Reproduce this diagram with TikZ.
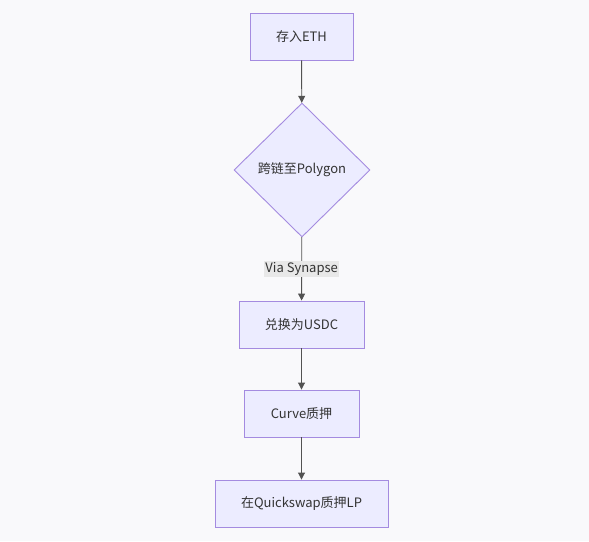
\documentclass[tikz,border=0pt]{standalone}
\usepackage{fontspec}
\setmainfont{Noto Sans CJK SC}
\usetikzlibrary{shapes.geometric,arrows.meta}

\definecolor{pagebg}{HTML}{F9F9FB}
\definecolor{boxfill}{HTML}{ECECFF}
\definecolor{boxline}{HTML}{A48BE0}
\definecolor{edgeline}{HTML}{333333}
\definecolor{labelbg}{HTML}{E8E8E8}

\tikzset{
  stepbox/.style={draw=boxline, fill=boxfill, line width=0.9pt, rectangle,
    minimum height=47pt, inner sep=0pt, font=\fontsize{13}{15}\selectfont, text=edgeline},
  choicebox/.style={draw=boxline, fill=boxfill, line width=0.9pt, diamond,
    minimum width=136pt, minimum height=134pt, inner sep=0pt,
    font=\fontsize{13}{15}\selectfont, text=edgeline},
  flow/.style={draw=edgeline!85, line width=0.9pt, -{Triangle[length=7pt,width=7pt]}},
  flowlabel/.style={fill=labelbg, inner sep=1.5pt, font=\fontsize{13}{15}\selectfont, text=edgeline}
}

\begin{document}
\begin{tikzpicture}[x=1pt, y=-1pt]

%%%%%%%%%%%%%%%%%%%%%%%%%%%%%%%%%%%%%%%%%%%%%%%%%%%%%%%%%%%%%%%%
% Page
%%%%%%%%%%%%%%%%%%%%%%%%%%%%%%%%%%%%%%%%%%%%%%%%%%%%%%%%%%%%%%%%
\fill [pagebg] (0,0) rectangle (589,541);
\useasboundingbox (0,0) rectangle (589,541);

%%%%%%%%%%%%%%%%%%%%%%%%%%%%%%%%%%%%%%%%%%%%%%%%%%%%%%%%%%%%%%%%
% Steps
%%%%%%%%%%%%%%%%%%%%%%%%%%%%%%%%%%%%%%%%%%%%%%%%%%%%%%%%%%%%%%%%

% Deposit
\node [stepbox, minimum width=103pt] (deposit) at (301.5,36.5) {存入ETH};

% Bridge
\node [choicebox] (bridge) at (302,170) {跨链至Polygon};

% Swap, stake
\node [stepbox, minimum width=125pt] (swap) at (301.5,324.5) {兑换为USDC};
\node [stepbox, minimum width=115pt] (curve) at (301.5,413.5) {Curve质押};
\node [stepbox, minimum width=173pt] (quick) at (301.5,503.5) {在Quickswap质押LP};

%%%%%%%%%%%%%%%%%%%%%%%%%%%%%%%%%%%%%%%%%%%%%%%%%%%%%%%%%%%%%%%%
% Edges
%%%%%%%%%%%%%%%%%%%%%%%%%%%%%%%%%%%%%%%%%%%%%%%%%%%%%%%%%%%%%%%%
\draw [flow] (deposit) to (bridge);
\draw [flow] (bridge) to node [flowlabel] (via) {Via Synapse} (swap);
\draw [flow] (swap) to (curve);
\draw [flow] (curve) to (quick);

\end{tikzpicture}
\end{document}
